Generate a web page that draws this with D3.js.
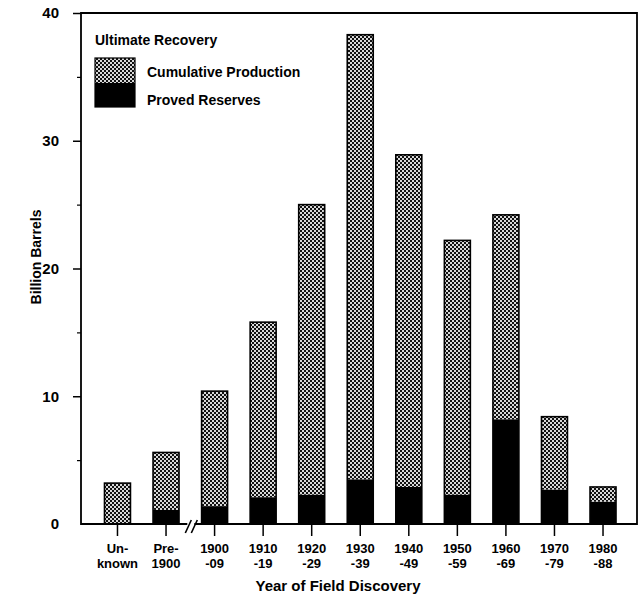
<!DOCTYPE html>
<html>
<head>
<meta charset="utf-8">
<script src="https://cdn.jsdelivr.net/npm/d3@7"></script>
<style>
  body { margin: 0; background: #fff; }
  text { font-family: "Liberation Sans", Arial, sans-serif; font-weight: bold; fill: #000; }
</style>
</head>
<body>
<div id="chart"></div>
<script>
// decades of field discovery (two line labels)
var categories = ["Unknown", "Pre-1900", "1900-09", "1910-19", "1920-29", "1930-39",
                  "1940-49", "1950-59", "1960-69", "1970-79", "1980-88"];
var labelTop = ["Un-", "Pre-", "1900", "1910", "1920", "1930", "1940", "1950", "1960", "1970", "1980"];
var labelBottom = ["known", "1900", "-09", "-19", "-29", "-39", "-49", "-59", "-69", "-79", "-88"];

// billion barrels
var provedReserves = [0, 1.1, 1.4, 2.1, 2.3, 3.5, 2.9, 2.3, 8.2, 2.7, 1.75];
var cumulativeProduction = [3.2, 4.5, 9.0, 13.7, 22.7, 34.8, 26.0, 19.9, 16.0, 5.7, 1.15];

var yTicks = [0, 10, 20, 30, 40];
var yMinorTicks = [5, 15, 25, 35];

var width = 641, height = 597;
var plotLeft = 81, plotRight = 637, plotTop = 13, plotBottom = 524;

var svg = d3.select("#chart").append("svg")
    .attr("width", width)
    .attr("height", height);

// dotted grey fill like the old halftone
var defs = svg.append("defs");
var pat = defs.append("pattern")
    .attr("id", "dots")
    .attr("patternUnits", "userSpaceOnUse")
    .attr("width", 4).attr("height", 4);
pat.append("rect").attr("width", 4).attr("height", 4).attr("fill", "#111");
pat.append("rect").attr("x", 0).attr("y", 0).attr("width", 2).attr("height", 2).attr("fill", "#d8d8d8");
pat.append("rect").attr("x", 2).attr("y", 2).attr("width", 2).attr("height", 2).attr("fill", "#d8d8d8");

var table = categories.map(function(c, i) {
    return {cat: c, reserves: provedReserves[i], production: cumulativeProduction[i]};
});

var x = d3.scaleBand()
    .domain(categories)
    .range([93.2, 627.3])
    .paddingInner(0.465)
    .paddingOuter(0.2325);

var y = d3.scaleLinear()
    .domain([0, 40])
    .range([plotBottom, plotTop]);

var stack = d3.stack().keys(["reserves", "production"]);
var series = stack(table);

var fills = {reserves: "#000", production: "url(#dots)"};

svg.append("g").selectAll("g")
    .data(series)
    .enter().append("g")
    .attr("fill", function(d) { return fills[d.key]; })
    .selectAll("rect")
    .data(function(d) { return d; })
    .enter().append("rect")
    .attr("x", function(d) { return x(d.data.cat); })
    .attr("y", function(d) { return y(d[1]); })
    .attr("width", x.bandwidth())
    .attr("height", function(d) { return y(d[0]) - y(d[1]); });

// outline of each whole bar
svg.append("g").selectAll("rect")
    .data(table)
    .enter().append("rect")
    .attr("x", function(d) { return x(d.cat); })
    .attr("y", function(d) { return y(d.reserves + d.production); })
    .attr("width", x.bandwidth())
    .attr("height", function(d) { return plotBottom - y(d.reserves + d.production); })
    .attr("fill", "none")
    .attr("stroke", "#000")
    .attr("stroke-width", 1.6);

// frame
svg.append("path")
    .attr("d", "M" + plotLeft + "," + plotTop + "H" + plotRight + "V" + plotBottom + "H" + plotLeft + "Z")
    .attr("fill", "none")
    .attr("stroke", "#000")
    .attr("stroke-width", 1.8);

// y axis
var yAxis = svg.append("g")
    .attr("transform", "translate(" + plotLeft + ",0)")
    .call(d3.axisLeft(y).tickValues(yTicks).tickSize(8).tickPadding(14));
yAxis.select(".domain").remove();
yAxis.selectAll("line").attr("stroke-width", 1.5)
    .filter(function(d) { return d === 0; }).remove();
yAxis.selectAll("text").style("font-size", "15px")
    .style("font-family", "'Liberation Sans', Arial, sans-serif");

var yMinor = svg.append("g")
    .attr("transform", "translate(" + plotLeft + ",0)")
    .call(d3.axisLeft(y).tickValues(yMinorTicks).tickSize(4).tickFormat(""));
yMinor.select(".domain").remove();
yMinor.selectAll("line").attr("stroke-width", 1.2);

// x axis
var xAxis = svg.append("g")
    .attr("transform", "translate(0," + plotBottom + ")")
    .call(d3.axisBottom(x).tickSize(12).tickFormat(""));
xAxis.select(".domain").remove();
xAxis.selectAll("line").attr("stroke-width", 1.5);

var lab = svg.append("g").selectAll("text")
    .data(categories)
    .enter().append("text")
    .attr("text-anchor", "middle")
    .style("font-size", "13px")
    .attr("x", function(d) { return x(d) + x.bandwidth() / 2; });
lab.append("tspan")
    .attr("x", function(d) { return x(d) + x.bandwidth() / 2; })
    .attr("y", 553)
    .text(function(d, i) { return labelTop[i]; });
lab.append("tspan")
    .attr("x", function(d) { return x(d) + x.bandwidth() / 2; })
    .attr("y", 568)
    .text(function(d, i) { return labelBottom[i]; });

// axis break marks between Pre-1900 and 1900-09
var bx = (x("Pre-1900") + x.bandwidth() + x("1900-09")) / 2 + 1;
svg.append("rect")
    .attr("x", bx - 4).attr("y", plotBottom - 2)
    .attr("width", 7).attr("height", 4)
    .attr("fill", "#fff");
[-3, 3].forEach(function(off) {
    svg.append("line")
        .attr("x1", bx + off - 3).attr("y1", plotBottom + 9)
        .attr("x2", bx + off + 3).attr("y2", plotBottom - 4)
        .attr("stroke", "#000")
        .attr("stroke-width", 1.6);
});

// axis titles
svg.append("text")
    .attr("x", 338).attr("y", 591)
    .attr("text-anchor", "middle")
    .style("font-size", "15px")
    .text("Year of Field Discovery");

svg.append("text")
    .attr("transform", "translate(41,257) rotate(-90)")
    .attr("text-anchor", "middle")
    .style("font-size", "14px")
    .text("Billion Barrels");

// legend
var legend = svg.append("g");
legend.append("text")
    .attr("x", 95).attr("y", 45)
    .style("font-size", "14px")
    .text("Ultimate Recovery");
legend.append("rect")
    .attr("x", 95).attr("y", 58).attr("width", 40).attr("height", 25)
    .attr("fill", fills.production);
legend.append("rect")
    .attr("x", 95).attr("y", 83).attr("width", 40).attr("height", 24)
    .attr("fill", fills.reserves);
legend.append("rect")
    .attr("x", 95).attr("y", 58).attr("width", 40).attr("height", 49)
    .attr("fill", "none").attr("stroke", "#000").attr("stroke-width", 1.2);
legend.append("text")
    .attr("x", 147).attr("y", 77)
    .style("font-size", "14px")
    .text("Cumulative Production");
legend.append("text")
    .attr("x", 147).attr("y", 105)
    .style("font-size", "14px")
    .text("Proved Reserves");
</script>
</body>
</html>
